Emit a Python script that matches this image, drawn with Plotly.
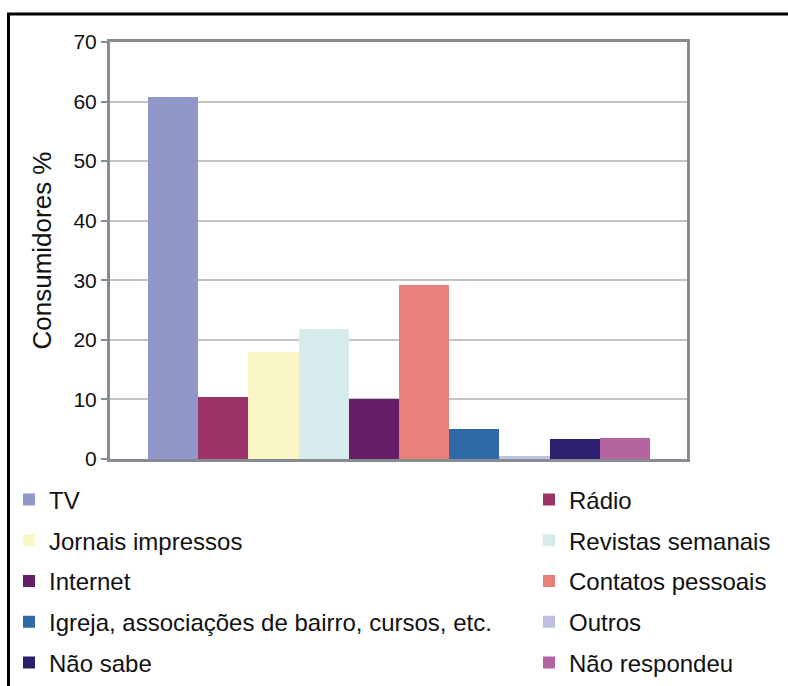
import plotly.graph_objects as go

categories = ["TV", "Rádio", "Jornais impressos", "Revistas semanais", "Internet",
              "Contatos pessoais", "Igreja, associações de bairro, cursos, etc.",
              "Outros", "Não sabe", "Não respondeu"]
values = [60.7, 10.4, 18.0, 21.8, 10.1, 29.2, 5.0, 0.55, 3.4, 3.6]
colors = ["#8F98C8", "#9B3466", "#FAF6C8", "#D6EBEC", "#641F66",
          "#E8807A", "#3069A8", "#BCC0DC", "#2C1F6E", "#B4649E"]
y_ticks = [0, 10, 20, 30, 40, 50, 60, 70]

W, H = 788, 686
# plot area in page pixels
PL, PR, PT, PB = 110, 687, 42, 459
L, T, R, B = PL, PT, W - PR, H - PB
pw, ph = PR - PL, PB - PT

def px2x(px):  # page px -> paper x
    return (px - PL) / pw

def py2y(py):  # page px -> paper y
    return (PB - py) / ph

FONT = "Liberation Sans, Arial, sans-serif"

fig = go.Figure()
for i, (name, v, c) in enumerate(zip(categories, values, colors)):
    fig.add_trace(go.Bar(
        x=[i], y=[v], width=1, name=name, marker=dict(color=c, line=dict(width=0)),
        legend="legend" if i % 2 == 0 else "legend2",
        legendgroup=f"g{i}", showlegend=True,
    ))

legend_common = dict(
    orientation="v", tracegroupgap=6.5, bgcolor="rgba(0,0,0,0)", borderwidth=0,
    font=dict(family=FONT, size=24, color="#111"), yanchor="top",
    xanchor="left", itemclick=False,
)

fig.update_layout(
    width=W, height=H, margin=dict(l=L, r=R, t=T, b=B, pad=0, autoexpand=False),
    paper_bgcolor="white", plot_bgcolor="white",
    barmode="overlay", bargap=0,
    font=dict(family=FONT, color="#111"),
    xaxis=dict(range=[-1.257, 10.237], showticklabels=False, showgrid=False,
               zeroline=False, showline=True, linecolor="#868c92", linewidth=3,
               mirror=True, ticks="", automargin=False),
    yaxis=dict(range=[0, 70], tickvals=y_ticks, showgrid=True, gridcolor="#c4c4c4",
               gridwidth=2, zeroline=False, showline=True, linecolor="#868c92",
               linewidth=3, mirror=True, ticks="outside", ticklen=6, tickcolor="#868c92",
               tickwidth=1.5, tickfont=dict(family=FONT, size=21, color="#111"),
               automargin=False,
               title=dict(text="Consumidores %", font=dict(family=FONT, size=26, color="#111"),
                          standoff=15)),
    legend=dict(x=px2x(9), y=py2y(477.5), **legend_common),
    legend2=dict(x=px2x(529), y=py2y(477.5), **legend_common),
    shapes=[
        dict(type="line", xref="paper", yref="paper", x0=px2x(8.5), x1=px2x(8.5),
             y0=py2y(14), y1=py2y(700), line=dict(color="black", width=3)),
        dict(type="line", xref="paper", yref="paper", x0=px2x(7), x1=px2x(800),
             y0=py2y(14), y1=py2y(14), line=dict(color="black", width=3)),
    ],
)

fig.write_html(
    "out.html",
    config={"displayModeBar": False},
    post_script=(
        "var d=document.documentElement,b=document.body;"
        "d.style.overflow='hidden';d.style.height='686px';"
        "b.style.margin='0';b.style.overflow='hidden';b.style.height='686px';"
    ),
)
